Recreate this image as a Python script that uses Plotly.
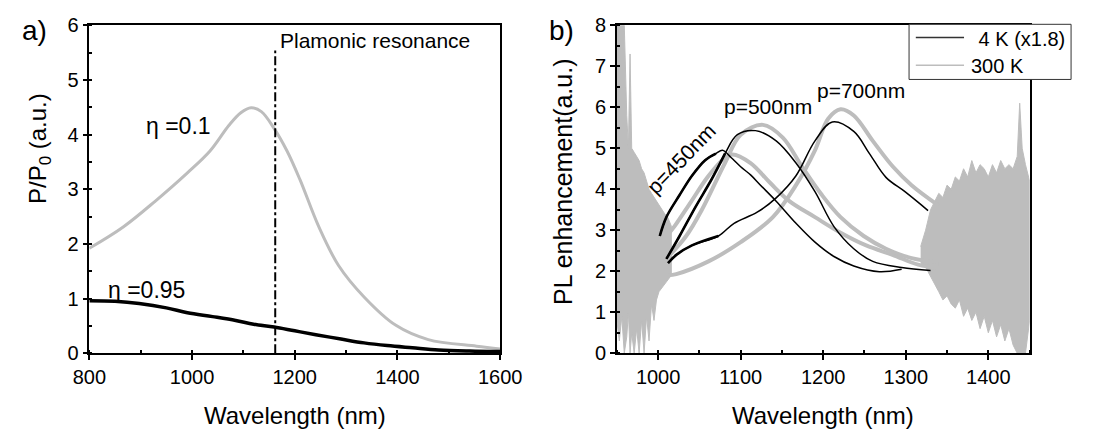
import plotly.graph_objects as go

W, H = 1095, 446
FONT = "Liberation Sans, Arial, sans-serif"

# ---------------- Panel a) data ----------------
wl_a = [800, 866, 928, 991, 1035, 1072, 1095, 1115, 1135, 1160, 1185, 1210, 1247, 1285, 1335, 1397, 1460, 1554, 1600]
eta01 = [1.92, 2.31, 2.78, 3.30, 3.70, 4.17, 4.40, 4.49, 4.42, 4.11, 3.70, 3.18, 2.31, 1.61, 1.03, 0.51, 0.25, 0.13, 0.08]
wl_b95 = [800, 850, 897, 950, 991, 1040, 1085, 1120, 1160, 1200, 1241, 1290, 1335, 1380, 1429, 1480, 1540, 1600]
eta095 = [0.96, 0.95, 0.91, 0.83, 0.74, 0.67, 0.60, 0.53, 0.48, 0.41, 0.34, 0.26, 0.19, 0.14, 0.10, 0.06, 0.04, 0.03]
resonance_wl = 1162
resonance_top = 5.54

# ---------------- Panel b) data ----------------
# 4 K (x1.8) black curves
k4_450_x = [1002, 1010, 1026, 1041, 1057, 1070, 1078, 1088, 1100, 1112, 1124, 1143, 1167, 1190, 1213, 1237, 1268, 1295]
k4_450_y = [2.86, 3.32, 3.86, 4.33, 4.71, 4.87, 4.95, 4.78, 4.55, 4.35, 4.10, 3.71, 3.17, 2.71, 2.36, 2.13, 1.99, 2.05]
k4_500_x = [1010, 1026, 1045, 1065, 1081, 1096, 1118, 1143, 1167, 1190, 1213, 1237, 1260, 1295, 1330]
k4_500_y = [2.30, 2.86, 3.56, 4.25, 4.87, 5.33, 5.43, 5.18, 4.64, 3.94, 3.09, 2.55, 2.24, 2.09, 2.02]
k4_700_x = [1012, 1022, 1041, 1073, 1092, 1120, 1143, 1167, 1190, 1211, 1237, 1256, 1276, 1299, 1327]
k4_700_y = [2.20, 2.40, 2.63, 2.86, 3.17, 3.44, 3.79, 4.33, 5.18, 5.64, 5.41, 4.87, 4.29, 3.94, 3.48]
# 300 K grey curves
r300_450_x = [1012, 1020, 1040, 1060, 1080, 1090, 1112, 1135, 1159, 1190, 1221, 1252, 1284, 1315, 1340]
r300_450_y = [2.90, 3.10, 3.70, 4.30, 4.75, 4.85, 4.64, 4.17, 3.71, 3.32, 2.94, 2.63, 2.40, 2.16, 2.08]
r300_500_x = [1012, 1034, 1053, 1081, 1100, 1127, 1151, 1174, 1198, 1221, 1249, 1276, 1307, 1340]
r300_500_y = [2.35, 2.86, 3.50, 4.64, 5.33, 5.57, 5.26, 4.56, 3.87, 3.32, 2.86, 2.55, 2.32, 2.22]
r300_700_x = [1012, 1022, 1061, 1100, 1139, 1167, 1190, 1206, 1221, 1237, 1260, 1284, 1307, 1340]
r300_700_y = [1.90, 1.93, 2.24, 2.71, 3.32, 4.10, 4.95, 5.72, 5.95, 5.80, 5.18, 4.56, 4.10, 3.60]
# spread of the noisy 300 K signal at the detector edges: upper / lower envelope
noise_l_x = [950, 953, 956, 959, 962, 964, 966, 968, 971, 974, 977, 980, 983, 986, 989, 992, 995, 998,
             1001, 1004, 1008, 1012, 1016]
noise_l_hi = [8.0, 8.0, 8.0, 8.0, 5.8, 5.0, 7.3, 5.0, 4.9, 4.8, 4.7, 4.5, 4.4, 4.2, 4.0, 3.9, 3.8, 3.7,
              3.6, 3.5, 3.4, 3.3, 3.1]
noise_l_lo = [0.8, 0.3, 0.9, 0.0, 0.4, 1.0, 0.0, 0.5, 0.0, 0.6, 0.0, 0.8, 0.0, 0.9, 0.3, 1.2, 0.8, 1.3,
              1.5, 1.6, 1.7, 1.8, 1.9]
noise_r_x = [1318, 1324, 1330, 1335, 1340, 1345, 1350, 1355, 1360, 1365, 1370, 1375, 1380, 1385, 1390, 1395,
             1400, 1405, 1410, 1415, 1420, 1425, 1430, 1435, 1438, 1441, 1445, 1450]
noise_r_hi = [2.6, 3.0, 3.5, 3.7, 3.9, 3.8, 4.1, 4.0, 4.3, 4.2, 4.5, 4.3, 4.7, 4.4, 4.6, 4.5,
              4.3, 4.6, 4.4, 4.7, 4.5, 4.6, 4.5, 4.8, 6.1, 5.0, 4.6, 4.2]
noise_r_lo = [2.2, 2.1, 1.9, 1.7, 1.5, 1.3, 1.4, 1.2, 1.1, 1.3, 0.9, 1.1, 0.8, 1.0, 0.6, 0.9,
              0.5, 0.8, 0.4, 0.7, 0.3, 0.6, 0.2, 0.0, 0.0, 0.0, 0.0, 0.8]

legend_names = [" 4 K (x1.8)", "300 K"]

GREY = "#bdbdbd"
DARK = "#333333"

fig = go.Figure()

# ---- panel a
fig.add_trace(go.Scatter(x=wl_a, y=eta01, mode="lines", line=dict(color=GREY, width=3, shape="spline"),
                         xaxis="x", yaxis="y", showlegend=False))
fig.add_trace(go.Scatter(x=wl_b95, y=eta095, mode="lines", line=dict(color="black", width=3.5, shape="spline"),
                         xaxis="x", yaxis="y", showlegend=False))
fig.add_trace(go.Scatter(x=[resonance_wl, resonance_wl], y=[0, resonance_top], mode="lines",
                         line=dict(color="black", width=2, dash="dashdot"),
                         xaxis="x", yaxis="y", showlegend=False))

# ---- panel b
for nx, hi, lo in [(noise_l_x, noise_l_hi, noise_l_lo), (noise_r_x, noise_r_hi, noise_r_lo)]:
    fig.add_trace(go.Scatter(x=nx + nx[::-1], y=hi + lo[::-1], mode="lines", fill="toself",
                             fillcolor=GREY, line=dict(color=GREY, width=1),
                             xaxis="x2", yaxis="y2", showlegend=False, hoverinfo="skip"))
for xs, ys in [(r300_450_x, r300_450_y), (r300_500_x, r300_500_y), (r300_700_x, r300_700_y)]:
    fig.add_trace(go.Scatter(x=xs, y=ys, mode="lines", line=dict(color=GREY, width=4, shape="spline"),
                             xaxis="x2", yaxis="y2", showlegend=False))
for xs, ys in [(k4_450_x, k4_450_y), (k4_500_x, k4_500_y), (k4_700_x, k4_700_y)]:
    fig.add_trace(go.Scatter(x=xs, y=ys, mode="lines", line=dict(color="black", width=1.5, shape="spline"),
                             xaxis="x2", yaxis="y2", showlegend=False))
# the low-wavelength rising parts of the 4 K spectra are noisier -> drawn heavier
for xs, ys, n in [(k4_450_x, k4_450_y, 6), (k4_500_x, k4_500_y, 5), (k4_700_x, k4_700_y, 4)]:
    fig.add_trace(go.Scatter(x=xs[:n], y=ys[:n], mode="lines", line=dict(color="black", width=2.6, shape="spline"),
                             xaxis="x2", yaxis="y2", showlegend=False))

def px(xp):
    return xp / W

def py(yp):
    return 1 - yp / H

top, bot = 15, 360
axis_common = dict(showline=True, linecolor="black", linewidth=1.5, mirror=True, ticks="outside",
                   ticklen=5, tickwidth=1.5, tickcolor="black", showgrid=False, zeroline=False,
                   tickfont=dict(family=FONT, size=20, color="black"))

# legend box drawn as shapes (box, sample lines)
shapes = [
    dict(type="rect", xref="paper", yref="paper", x0=px(925), x1=px(1093), y0=py(72), y1=py(14),
         fillcolor="white", line=dict(color=DARK, width=1), layer="above"),
    dict(type="line", xref="paper", yref="paper", x0=px(932), x1=px(982), y0=py(28), y1=py(28),
         line=dict(color=DARK, width=1.5), layer="above"),
    dict(type="line", xref="paper", yref="paper", x0=px(932), x1=px(982), y0=py(57), y1=py(57),
         line=dict(color=GREY, width=1.5), layer="above"),
]

fig.update_layout(
    width=W, height=H, margin=dict(l=0, r=0, t=0, b=0),
    paper_bgcolor="white", plot_bgcolor="white", showlegend=False,
    xaxis=dict(domain=[px(75), px(501)], range=[800, 1600], dtick=200, anchor="y",
               minor=dict(dtick=100, ticks="inside", ticklen=3, tickcolor="black"), **axis_common),
    yaxis=dict(domain=[py(bot), py(top)], range=[0, 6], dtick=1, anchor="x",
               minor=dict(dtick=0.5, ticks="inside", ticklen=3, tickcolor="black"), **axis_common),
    xaxis2=dict(domain=[px(622), px(1050)], range=[950, 1450], dtick=100, anchor="y2",
                minor=dict(dtick=50, ticks="inside", ticklen=3, tickcolor="black"), **axis_common),
    yaxis2=dict(domain=[py(bot), py(top)], range=[0, 8], dtick=1, anchor="x2",
                minor=dict(dtick=0.5, ticks="inside", ticklen=3, tickcolor="black"), **axis_common),
    shapes=shapes,
    font=dict(family=FONT, color="black"),
)

ann = []
def A(text, x, y, xref="paper", yref="paper", size=21, xanchor="center", yanchor="middle", **kw):
    ann.append(dict(text=text, x=x, y=y, xref=xref, yref=yref, showarrow=False,
                    xanchor=xanchor, yanchor=yanchor,
                    font=dict(family=FONT, size=size, color="black"), **kw))

A("a)", px(18), py(21), size=28)
A("b)", px(565), py(20), size=28)
A("Wavelength (nm)", px(288), py(425), size=24)
A("Wavelength (nm)", px(836), py(425), size=24)
A("P/P<sub>0</sub> (a.u.)", px(24), py(145), size=24, textangle=-90)
A("PL enhancement(a.u.)", px(566), py(180), size=25, textangle=-90)
A("Plamonic resonance", 1167, 5.72, xref="x", yref="y", size=21, xanchor="left")
A("η =0.1", 974, 4.15, xref="x", yref="y", size=23)
A("η =0.95", 911, 1.15, xref="x", yref="y", size=23)
A("p=450nm", 1028, 4.75, xref="x2", yref="y2", size=21, textangle=-46)
A("p=500nm", 1133, 6.02, xref="x2", yref="y2", size=21)
A("p=700nm", 1246, 6.42, xref="x2", yref="y2", size=21)
A(legend_names[0], px(989), py(29), size=20, xanchor="left")
A(legend_names[1], px(987), py(58), size=20, xanchor="left")
fig.update_layout(annotations=ann)

fig.write_html("out.html")
